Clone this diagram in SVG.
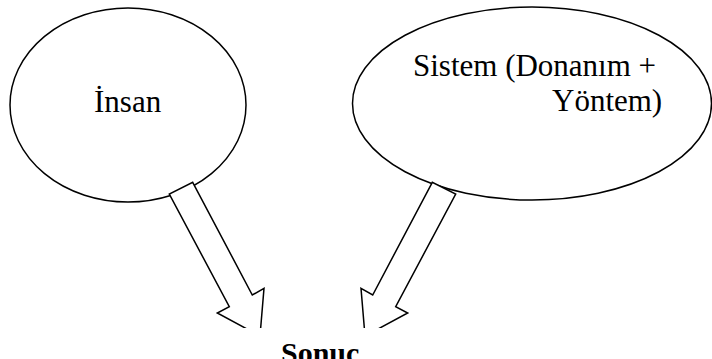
<svg xmlns="http://www.w3.org/2000/svg" width="712" height="359" viewBox="0 0 712 359">
  <style>
    .shape { fill: #ffffff; stroke: #000000; stroke-width: 1.5; stroke-linejoin: miter; }
    .label { font-family: "Liberation Serif", "Times New Roman", serif; font-size: 31px; fill: #000000; }
    .bold { font-weight: bold; font-size: 30px; }
  </style>
  <defs>
    <!-- block arrows are cut off above the result label -->
    <clipPath id="arrowClip">
      <rect x="0" y="0" width="712" height="328"/>
    </clipPath>
  </defs>
  <rect width="712" height="359" fill="#ffffff"/>

  <g id="node-insan">
    <ellipse class="shape" cx="128" cy="105" rx="118" ry="97"/>
    <text class="label" x="94" y="112">İnsan</text>
  </g>

  <g id="node-sistem">
    <ellipse class="shape" cx="532" cy="103.5" rx="179.5" ry="96.5"/>
    <text class="label" x="413" y="76">Sistem (Donanım +</text>
    <text class="label" x="552" y="111">Yöntem)</text>
  </g>

  <g id="connectors" clip-path="url(#arrowClip)">
    <polygon class="shape" points="192.7,182.3 252.3,295 264,288.3 260,336 217.3,313 229.3,306.7 169.3,194"/>
    <polygon class="shape" points="432.3,182.3 372.7,295 361,288.3 365,336 407.7,313 395.7,306.7 455.7,194"/>
  </g>

  <g id="node-sonuc">
    <text class="label bold" x="281" y="363">Sonuç</text>
  </g>
</svg>
